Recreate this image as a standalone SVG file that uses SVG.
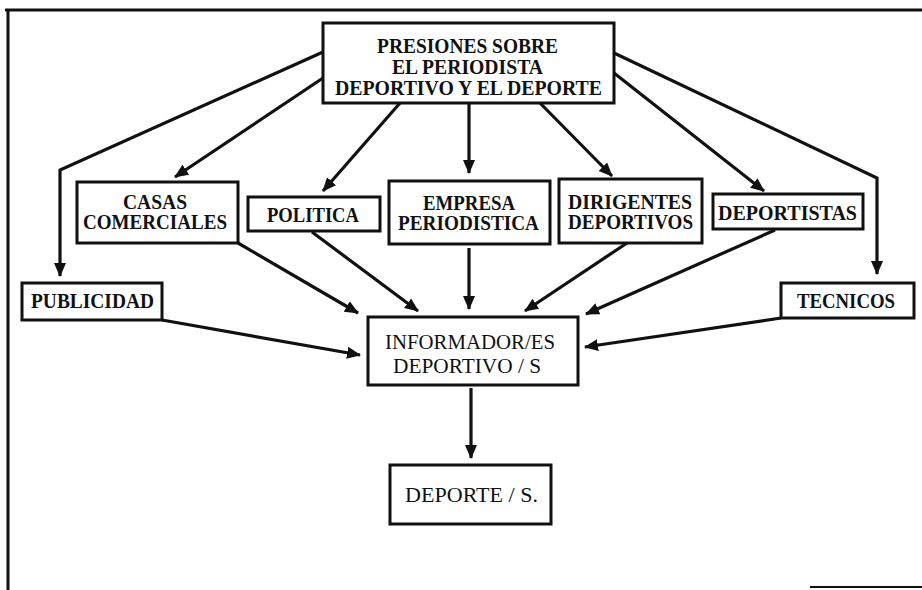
<svg xmlns="http://www.w3.org/2000/svg" width="922" height="590" viewBox="0 0 922 590">
<style>
.box{fill:#fff;stroke:#111;stroke-width:3}
.t{font-family:"Liberation Serif","Times New Roman",serif;font-size:20.5px;font-weight:bold;fill:#111;text-anchor:start}
.r{font-weight:normal;font-size:21px}
.c{fill:none;stroke:#111;stroke-width:3.2;stroke-linejoin:miter}
.frame{stroke:#111;stroke-width:3;fill:none}
</style>
<defs>
<marker id="ah" markerUnits="userSpaceOnUse" markerWidth="14" markerHeight="14" viewBox="0 0 14 14" refX="13" refY="7" orient="auto">
<path d="M0,1 L14,7 L0,13 Z" fill="#111"/>
</marker>
</defs>
<rect width="922" height="590" fill="#fff"/>
<g id="frame">
<line class="frame" x1="5" y1="10" x2="922" y2="10"/>
<line class="frame" x1="8" y1="10" x2="8" y2="590"/>
<line x1="810" y1="587" x2="922" y2="587" stroke="#111" stroke-width="2"/>
</g>
<g id="connectors">
<polyline class="c" points="323,52 60,170 60,276" marker-end="url(#ah)"/>
<line class="c" x1="323" y1="78" x2="175" y2="177" marker-end="url(#ah)"/>
<line class="c" x1="400" y1="103" x2="323" y2="191" marker-end="url(#ah)"/>
<line class="c" x1="469" y1="103" x2="469" y2="173" marker-end="url(#ah)"/>
<line class="c" x1="540" y1="103" x2="612" y2="176" marker-end="url(#ah)"/>
<line class="c" x1="614" y1="73" x2="764" y2="191" marker-end="url(#ah)"/>
<polyline class="c" points="614,53 877,178 877,274" marker-end="url(#ah)"/>
<line class="c" x1="238" y1="243" x2="358" y2="313" marker-end="url(#ah)"/>
<line class="c" x1="312" y1="232" x2="418" y2="311" marker-end="url(#ah)"/>
<line class="c" x1="469" y1="248" x2="469" y2="309" marker-end="url(#ah)"/>
<line class="c" x1="627" y1="243" x2="525" y2="311" marker-end="url(#ah)"/>
<line class="c" x1="775" y1="230" x2="586" y2="314" marker-end="url(#ah)"/>
<line class="c" x1="162" y1="320" x2="360" y2="355" marker-end="url(#ah)"/>
<line class="c" x1="781" y1="318" x2="585" y2="347" marker-end="url(#ah)"/>
<line class="c" x1="471" y1="388" x2="471" y2="458" marker-end="url(#ah)"/>
</g>
<g id="presiones">
<rect class="box" x="323" y="23" width="291" height="80"/>
<text class="t" x="377" y="53" textLength="181" lengthAdjust="spacingAndGlyphs">PRESIONES SOBRE</text>
<text class="t" x="392" y="74" textLength="151" lengthAdjust="spacingAndGlyphs">EL PERIODISTA</text>
<text class="t" x="335" y="95" textLength="267" lengthAdjust="spacingAndGlyphs">DEPORTIVO Y EL DEPORTE</text>
</g>
<g id="casas">
<rect class="box" x="77" y="182" width="161" height="61"/>
<text class="t" x="123" y="209" textLength="64" lengthAdjust="spacingAndGlyphs">CASAS</text>
<text class="t" x="83" y="229" textLength="144" lengthAdjust="spacingAndGlyphs">COMERCIALES</text>
</g>
<g id="politica">
<rect class="box" x="248" y="197" width="132" height="34"/>
<text class="t" x="267" y="222" textLength="92" lengthAdjust="spacingAndGlyphs">POLITICA</text>
</g>
<g id="empresa">
<rect class="box" x="389" y="181" width="161" height="63"/>
<text class="t" x="423" y="210" textLength="92" lengthAdjust="spacingAndGlyphs">EMPRESA</text>
<text class="t" x="398" y="230" textLength="141" lengthAdjust="spacingAndGlyphs">PERIODISTICA</text>
</g>
<g id="dirigentes">
<rect class="box" x="559" y="179" width="143" height="64"/>
<text class="t" x="568" y="209" textLength="124" lengthAdjust="spacingAndGlyphs">DIRIGENTES</text>
<text class="t" x="568" y="229" textLength="125" lengthAdjust="spacingAndGlyphs">DEPORTIVOS</text>
</g>
<g id="deportistas">
<rect class="box" x="713" y="194" width="150" height="35"/>
<text class="t" x="718" y="220" textLength="139" lengthAdjust="spacingAndGlyphs">DEPORTISTAS</text>
</g>
<g id="publicidad">
<rect class="box" x="22" y="283" width="140" height="37"/>
<text class="t" x="31" y="308" textLength="123" lengthAdjust="spacingAndGlyphs">PUBLICIDAD</text>
</g>
<g id="tecnicos">
<rect class="box" x="781" y="283" width="133" height="35"/>
<text class="t" x="797" y="308" textLength="98" lengthAdjust="spacingAndGlyphs">TECNICOS</text>
</g>
<g id="informador">
<rect class="box" x="368" y="317" width="210" height="68"/>
<text class="t r" x="385" y="349" textLength="170" lengthAdjust="spacingAndGlyphs">INFORMADOR/ES</text>
<text class="t r" x="393" y="373" textLength="148" lengthAdjust="spacingAndGlyphs">DEPORTIVO / S</text>
</g>
<g id="deporte">
<rect class="box" x="390" y="465" width="161" height="59"/>
<text class="t r" x="405" y="502" textLength="133" lengthAdjust="spacingAndGlyphs">DEPORTE / S.</text>
</g>
</svg>
